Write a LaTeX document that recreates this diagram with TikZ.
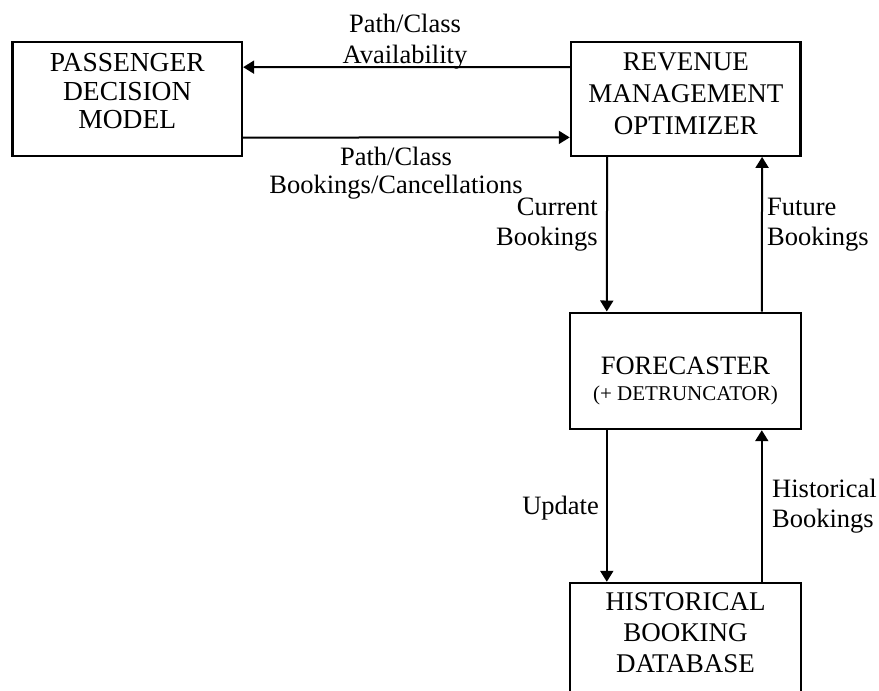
\documentclass[tikz,border=0pt]{standalone}
\usepackage{fontspec}
\setmainfont{Liberation Serif}
\usetikzlibrary{arrows.meta}

% stacked lines whose baseline is the baseline of the first line
\newcommand{\rows}[2]{\begin{tabular}[t]{@{}#1@{}}#2\end{tabular}}

\begin{document}
\begin{tikzpicture}[x=1pt,y=-1pt,
  box/.style={draw, line width=2.4pt, inner sep=0pt, anchor=base},
  arr/.style={line width=2pt, -{Triangle[length=11pt,width=13pt]}},
  lbl/.style={inner sep=0pt}
]
\useasboundingbox (0,0) rectangle (879,691);
\clip (0,0) rectangle (879,691);

% blocks
\node[box, minimum width=229.3pt, text height=30pt, text depth=84.3pt,
      font=\fontsize{27.5}{28.3}\selectfont] (pdm) at (127.3,71.7)
      {\rows{c}{PASSENGER\\DECISION\\MODEL}};
\node[box, minimum width=229.7pt, text height=29pt, text depth=85pt,
      font=\fontsize{27}{32}\selectfont] (rm) at (685.8,70.7)
      {\rows{c}{REVENUE\\MANAGEMENT\\OPTIMIZER}};
\node[box, minimum width=231pt, text height=61.3pt, text depth=55pt,
      font=\fontsize{26.5}{26.7}\selectfont] (fc) at (685.5,374)
      {\rows{c}{FORECASTER\\{\fontsize{21}{26.7}\selectfont (+ DETRUNCATOR)}}};
\node[box, minimum width=231pt, text height=27pt, text depth=130pt,
      font=\fontsize{27}{31}\selectfont] (hist) at (685.5,610)
      {\rows{c}{HISTORICAL\\BOOKING\\DATABASE}};

% flows between blocks
\draw[arr] ([yshift=31.7pt]rm.west) -- ([yshift=31.7pt]pdm.east);
\draw[arr] ([yshift=-38.7pt]pdm.east) -- ([yshift=-38.7pt]rm.west);
\draw[arr] ([xshift=-78.7pt]rm.south) -- ([xshift=-78.7pt]fc.north);
\draw[arr] ([xshift=76.3pt]fc.north) -- ([xshift=76.3pt]rm.south);
\draw[arr] ([xshift=-78.7pt]fc.south) -- ([xshift=-78.7pt]hist.north);
\draw[arr] ([xshift=76.3pt]hist.north) -- ([xshift=76.3pt]fc.south);

% flow labels
\node[lbl, anchor=base, font=\fontsize{26.5}{31}\selectfont] (lavail) at (405,32)
      {\rows{c}{Path/Class\\Availability}};
\node[lbl, anchor=base, font=\fontsize{26.5}{28}\selectfont] (lbook) at (396,165)
      {\rows{c}{Path/Class\\Bookings/Cancellations}};
\node[lbl, anchor=base east, font=\fontsize{26.5}{30}\selectfont] (lcur) at (598,215)
      {\rows{r}{Current\\Bookings}};
\node[lbl, anchor=base west, font=\fontsize{26.5}{30}\selectfont] (lfut) at (767,215)
      {\rows{l}{Future\\Bookings}};
\node[lbl, anchor=base east, font=\fontsize{26.5}{30}\selectfont] (lupd) at (599,514)
      {Update};
\node[lbl, anchor=base west, font=\fontsize{26.5}{30}\selectfont] (lhist) at (772,497)
      {\rows{l}{Historical\\Bookings}};
\end{tikzpicture}
\end{document}
